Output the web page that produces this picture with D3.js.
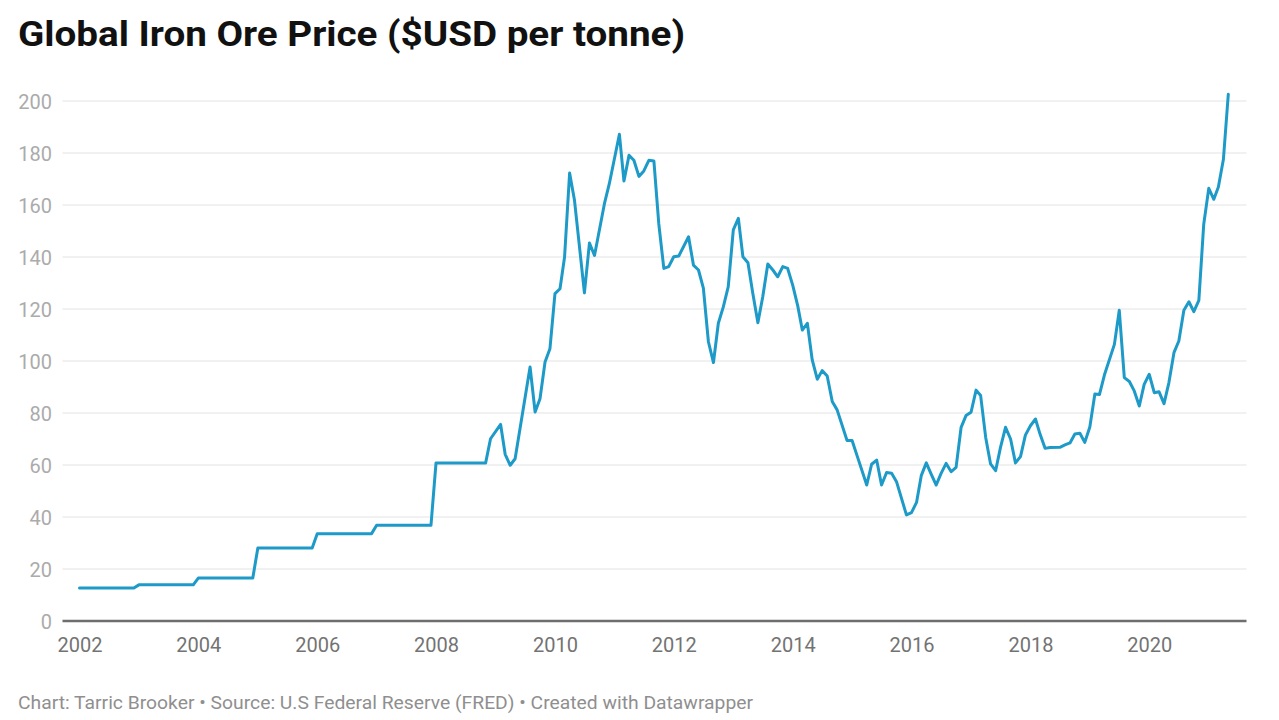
<!DOCTYPE html>
<html>
<head>
<meta charset="utf-8">
<script src="https://cdn.jsdelivr.net/npm/d3@7"></script>
<style>
  html, body { margin: 0; padding: 0; background: #fff; }
  svg { display: block; }
</style>
</head>
<body>
<svg id="chart" width="1279" height="720"></svg>
<script>
// ---- Data ----
const titleText = "Global Iron Ore Price ($USD per tonne)";
const footerText = "Chart: Tarric Brooker \u2022 Source: U.S Federal Reserve (FRED) \u2022 Created with Datawrapper";

// monthly observations (turning points of the line)
const months = [
  "2002-01","2002-12","2003-01","2003-12","2004-01","2004-12","2005-01","2005-12","2006-01","2006-12",
  "2007-01","2007-12","2008-01","2008-11","2008-12",
  "2009-02","2009-03","2009-04","2009-05","2009-08","2009-09","2009-10","2009-11","2009-12",
  "2010-01","2010-02","2010-03","2010-04","2010-05","2010-07","2010-08","2010-09","2010-11","2010-12",
  "2011-02","2011-03","2011-04","2011-05","2011-06","2011-07","2011-08","2011-09","2011-10","2011-11","2011-12",
  "2012-01","2012-02","2012-04","2012-05","2012-06","2012-07","2012-08","2012-09","2012-10","2012-11","2012-12",
  "2013-01","2013-02","2013-03","2013-04","2013-05","2013-06","2013-07","2013-08","2013-09","2013-10","2013-11","2013-12",
  "2014-01","2014-02","2014-03","2014-04","2014-05","2014-06","2014-07","2014-08","2014-09","2014-10","2014-12",
  "2015-01","2015-02","2015-04","2015-05","2015-06","2015-07","2015-08","2015-09","2015-10","2015-12",
  "2016-01","2016-02","2016-03","2016-04","2016-05","2016-06","2016-07","2016-08","2016-09","2016-10","2016-11","2016-12",
  "2017-01","2017-02","2017-03","2017-04","2017-05","2017-06","2017-07","2017-08","2017-09","2017-10","2017-11","2017-12",
  "2018-01","2018-02","2018-03","2018-04","2018-05","2018-07","2018-08","2018-09","2018-10","2018-11","2018-12",
  "2019-01","2019-02","2019-03","2019-04","2019-06","2019-07","2019-08","2019-09","2019-10","2019-11","2019-12",
  "2020-01","2020-02","2020-03","2020-04","2020-05","2020-06","2020-07","2020-08","2020-09","2020-10","2020-11","2020-12",
  "2021-01","2021-02","2021-03","2021-04","2021-05"
];
const prices = [
  12.7, 12.7, 13.9, 13.9, 16.5, 16.5, 28.1, 28.1, 33.6, 33.6,
  36.8, 36.8, 60.8, 60.8, 70.1,
  75.6, 64.1, 59.9, 62.4, 97.7, 80.4, 85.5, 99.6, 104.7,
  125.9, 127.8, 140.0, 172.3, 161.8, 126.2, 145.4, 140.6, 160.5, 168.2,
  187.2, 169.2, 179.1, 177.2, 171.0, 173.1, 177.2, 176.9, 152.8, 135.6, 136.3,
  140.1, 140.4, 147.8, 136.9, 135.0, 128.0, 107.4, 99.4, 114.5, 120.9, 128.6,
  150.4, 154.9, 140.1, 137.8, 126.0, 114.7, 124.7, 137.3, 135.0, 132.4, 136.3, 135.6,
  129.2, 121.2, 111.9, 114.5, 100.4, 93.0, 96.3, 94.2, 84.4, 81.2, 69.4,
  69.4, 63.5, 52.3, 60.3, 61.9, 52.3, 57.1, 56.8, 53.6, 40.8,
  41.7, 45.6, 55.9, 60.8, 56.5, 52.3, 56.8, 60.6, 57.4, 59.1, 74.5, 79.0,
  80.3, 88.8, 86.7, 70.6, 60.4, 57.8, 66.8, 74.5, 70.0, 60.8, 63.2, 71.5,
  75.1, 77.7, 71.9, 66.4, 66.7, 66.8, 67.7, 68.5, 71.9, 72.2, 68.7,
  74.6, 87.3, 87.1, 94.7, 106.4, 119.5, 93.6, 92.1, 88.5, 82.7, 91.0,
  94.9, 87.8, 88.2, 83.6, 91.7, 103.2, 107.7, 119.5, 122.8, 119.0, 123.3, 152.6,
  166.4, 162.2, 166.9, 177.6, 202.6
];
const yTicks = [0, 20, 40, 60, 80, 100, 120, 140, 160, 180, 200];
const xTickYears = [2002, 2004, 2006, 2008, 2010, 2012, 2014, 2016, 2018, 2020];

// ---- Layout ----
const svg = d3.select("#chart");
const W = 1279, H = 720;
svg.append("rect").attr("width", W).attr("height", H).attr("fill", "#fff");

const parseMonth = d3.timeParse("%Y-%m");
const data = months.map((m, i) => ({ date: parseMonth(m), v: prices[i] }));

const plotLeft = 62.5, plotRight = 1246.5;
const x = d3.scaleTime()
  .domain(d3.extent(data, d => d.date))
  .range([79.5, 1228.3]);
const y = d3.scaleLinear().domain([0, 200]).range([621, 101]);

// Title
const title = svg.append("text")
  .attr("x", 18).attr("y", 46)
  .attr("font-family", "Roboto, 'Noto Sans', sans-serif")
  .attr("font-weight", 700)
  .attr("font-size", 35)
  .attr("fill", "#111")
  .text(titleText);
const tw = title.node().getComputedTextLength();
if (Math.abs(tw - 667) > 4) {
  title.attr("textLength", 667).attr("lengthAdjust", "spacingAndGlyphs");
}

// Gridlines
const grid = svg.append("g");
grid.selectAll("line").data(yTicks.filter(d => d > 0)).join("line")
  .attr("x1", plotLeft).attr("x2", plotRight)
  .attr("y1", d => y(d)).attr("y2", d => y(d))
  .attr("stroke", "#e3e3e3").attr("stroke-width", 1);

// Y axis labels
const yAxis = d3.axisLeft(y).tickValues(yTicks).tickSize(0).tickPadding(0).tickFormat(d3.format("d"));
const gy = svg.append("g").attr("transform", `translate(52,0)`).call(yAxis);
gy.select(".domain").remove();
gy.selectAll("text")
  .attr("font-family", "Roboto, sans-serif")
  .attr("font-size", 20)
  .attr("fill", "#ababab")
  .attr("dy", "0.36em");

// X axis labels
const xAxis = d3.axisBottom(x)
  .tickValues(xTickYears.map(yr => new Date(yr, 0, 1)))
  .tickSize(0).tickPadding(0)
  .tickFormat(d3.timeFormat("%Y"));
const gx = svg.append("g").attr("transform", `translate(0,${y(0)})`).call(xAxis);
gx.select(".domain").remove();
gx.selectAll("text")
  .attr("font-family", "Roboto, sans-serif")
  .attr("font-size", 20)
  .attr("fill", "#737373")
  .attr("y", 30.7)
  .attr("dy", 0);

// Baseline
svg.append("line")
  .attr("x1", plotLeft).attr("x2", plotRight)
  .attr("y1", y(0)).attr("y2", y(0))
  .attr("stroke", "#6e6e6e").attr("stroke-width", 2.6);

// Line
const line = d3.line().x(p => x(p.date)).y(p => y(p.v));
svg.append("path")
  .datum(data)
  .attr("d", line)
  .attr("fill", "none")
  .attr("stroke", "#1d9ac8")
  .attr("stroke-width", 3)
  .attr("stroke-linejoin", "round")
  .attr("stroke-linecap", "round");

// Footer
const footer = svg.append("text")
  .attr("x", 18).attr("y", 708.5)
  .attr("font-family", "Roboto, sans-serif")
  .attr("font-size", 19)
  .attr("fill", "#8f8f8f")
  .text(footerText);
const fw = footer.node().getComputedTextLength();
if (Math.abs(fw - 735) > 4) {
  footer.attr("textLength", 735).attr("lengthAdjust", "spacingAndGlyphs");
}
</script>
</body>
</html>
